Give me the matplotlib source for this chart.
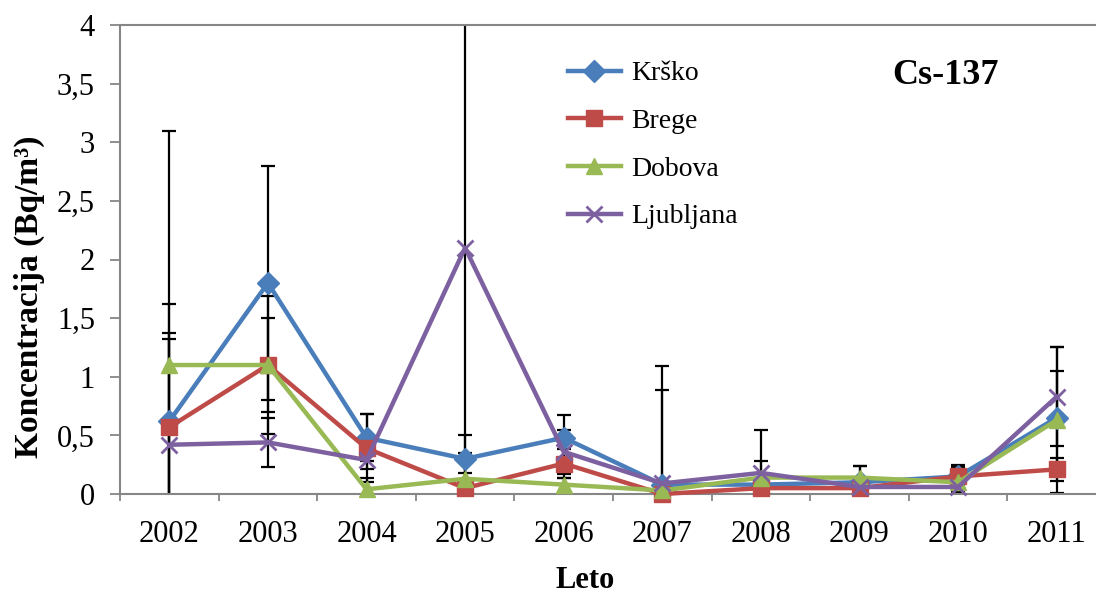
import numpy as np
import matplotlib.pyplot as plt
from matplotlib.ticker import FuncFormatter, FixedLocator

plt.rcParams['font.family'] = ['Liberation Serif', 'DejaVu Serif']

years = ['2002', '2003', '2004', '2005', '2006', '2007', '2008', '2009', '2010', '2011']

krsko = [0.62, 1.80, 0.48, 0.30, 0.48, 0.08, 0.08, 0.10, 0.15, 0.65]
brege = [0.57, 1.10, 0.39, 0.05, 0.26, 0.00, 0.05, 0.05, 0.15, 0.21]
dobova = [1.10, 1.10, 0.04, 0.13, 0.08, 0.03, 0.14, 0.14, 0.10, 0.63]
ljubljana = [0.42, 0.44, 0.29, 2.10, 0.36, 0.09, 0.18, 0.06, 0.06, 0.83]

krsko_err = [0.75, 1.00, 0.20, 0.20, 0.19, 0.81, 0.05, 0.14, 0.08, 0.40]
brege_err = [0.75, 0.40, 0.29, 0.05, 0.12, 0.02, 0.04, 0.04, 0.10, 0.10]
dobova_err = [2.00, 0.59, 0.10, 0.22, 0.06, 0.03, 0.14, 0.10, 0.05, 0.62]
ljubljana_err = [1.20, 0.21, 0.08, 1.92, 0.19, 1.00, 0.37, 0.04, 0.04, 0.42]

series = [
    ('Krško', krsko, krsko_err, '#4A7EBB', 'D', 11),
    ('Brege', brege, brege_err, '#BE4B48', 's', 11),
    ('Dobova', dobova, dobova_err, '#98B954', '^', 12),
    ('Ljubljana', ljubljana, ljubljana_err, '#7D60A0', 'x', 12),
]

fig = plt.figure(figsize=(10.96, 5.96), dpi=100)
ax = fig.add_axes([120 / 1096, 102 / 596, 986 / 1096, 469 / 596])

x = np.arange(len(years))
for name, vals, err, col, mk, ms in series:
    ax.errorbar(x, vals, yerr=err, fmt='none', ecolor='black', elinewidth=1.6,
                capsize=5, capthick=1.6, zorder=2)
for name, vals, err, col, mk, ms in series:
    ax.plot(x, vals, color=col, lw=3.2, marker=mk, markersize=ms,
            markeredgewidth=2 if mk == 'x' else 1, markeredgecolor=col,
            label=name, zorder=3, clip_on=False)

ax.set_xlim(-0.5, 9.5)
ax.set_ylim(0, 4)
ax.set_yticks(np.arange(0, 4.01, 0.5))
ax.yaxis.set_major_formatter(FuncFormatter(lambda v, p: ('%g' % v).replace('.', ',')))
ax.set_xticks(x)
ax.set_xticklabels(years)
ax.xaxis.set_minor_locator(FixedLocator(np.arange(-0.5, 10, 1)))
ax.tick_params(axis='x', which='major', length=0, labelsize=22, pad=19)
ax.tick_params(axis='x', which='minor', length=5, width=1.3, color='#868686')
ax.tick_params(axis='y', length=7, width=1.3, color='#868686', labelsize=22, pad=11)

for s in ['left', 'bottom', 'top']:
    ax.spines[s].set_color('#868686')
    ax.spines[s].set_linewidth(1.5)
ax.spines['right'].set_visible(False)

fig.text(29 / 1096, 1 - 297 / 596, 'Koncentracija (Bq/m³)', rotation=90,
         fontsize=24, fontweight='bold', ha='center', va='center')
fig.text(585 / 1096, 1 - 580 / 596, 'Leto', fontsize=22, fontweight='bold',
         ha='center', va='center')
fig.text(945 / 1096, 1 - 75 / 596, 'Cs-137', fontsize=26, fontweight='bold',
         ha='center', va='center')

ax.legend(loc='upper left', bbox_to_anchor=(448 / 986, 1 - 36 / 469), frameon=False,
          fontsize=20, handlelength=1.9, labelspacing=0.8, handletextpad=0.36,
          borderaxespad=0, borderpad=0)

fig.savefig('out.png', dpi=100)
